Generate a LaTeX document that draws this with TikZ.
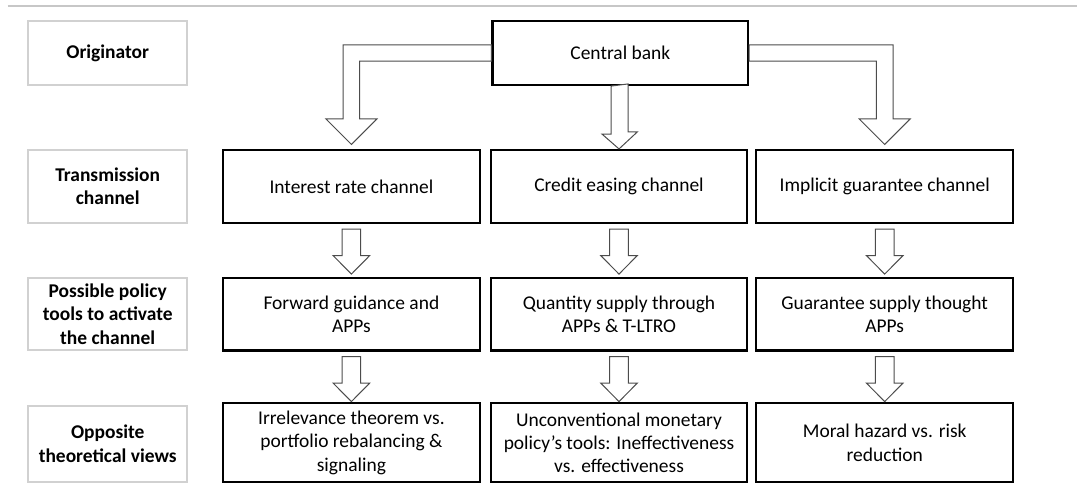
\documentclass[tikz,border=0pt]{standalone}
\usepackage{fontspec}
\setmainfont{Carlito}
\usetikzlibrary{calc}
\begin{document}
\begin{tikzpicture}[x=0.75pt,y=-0.75pt,
  every node/.style={font=\fontsize{14.6}{17.5}\selectfont, align=center, inner sep=0pt},
  labelbox/.style={draw=black!18, line width=1.5pt, fill=white, minimum width=119.6pt, font=\fontsize{14.6}{17.5}\selectfont\bfseries},
  mainbox/.style={draw=black, line width=1.6pt, fill=white},
  colbox/.style={mainbox, minimum width=192.5pt},
  blockarrow/.style={draw=black!70, line width=0.75pt, fill=white, line join=miter}
]
\useasboundingbox (0,0) rectangle (1077,499);
\draw[black!22, line width=0.8pt] (7.6,6) -- (1077,6);

% left labels
\node[labelbox, minimum height=48pt] (lorig) at (107.7,53) {Originator};
\node[labelbox, minimum height=54.5pt] (ltrans) at (107.7,186.4) {Transmission\\channel};
\node[labelbox, minimum height=53.8pt] (ltools) at (107.7,314.2) {Possible policy\\tools to activate\\the channel};
\node[labelbox, minimum height=57pt] (lviews) at (107.7,443.7) {Opposite\\theoretical views};

% central bank
\node[mainbox, minimum width=191.7pt, minimum height=48pt] (cb) at (620.3,53) {Central bank};

% row 1
\node[colbox, minimum height=54.75pt] (r1c1) at (351.4,186.5) {Interest rate channel};
\node[colbox, minimum height=54.75pt] (r1c2) at (619,186.5) {Credit easing channel};
\node[colbox, minimum height=54.75pt] (r1c3) at (884.7,186.5) {Implicit guarantee channel};
% row 2
\node[colbox, minimum height=54.4pt] (r2c1) at (351.4,314.25) {Forward guidance and\\APPs};
\node[colbox, minimum height=54.4pt] (r2c2) at (619,314.25) {Quantity supply through\\APPs \& T-LTRO};
\node[colbox, minimum height=54.4pt] (r2c3) at (884.7,314.25) {Guarantee supply thought\\APPs};
% row 3
\node[colbox, minimum height=59pt] (r3c1) at (351.4,442.7) {Irrelevance theorem vs.\\portfolio rebalancing \&\\signaling};
\node[colbox, minimum height=59pt] (r3c2) at (619,442.7) {Unconventional monetary\\policy’s tools: Ineffectiveness\\vs. effectiveness};
\node[colbox, minimum height=59pt] (r3c3) at (884.7,442.7) {Moral hazard vs. risk\\reduction};

% top arrows
\draw[blockarrow] ($(cb.west)+(0,-8.2)$) -- ($(r1c1.north |- cb.west)+(-8.3,-8.2)$)
  -- ($(r1c1.north)+(-8.3,-30)$) -- ($(r1c1.north)+(-25.5,-30)$) -- ($(r1c1.north)+(0,-4.5)$)
  -- ($(r1c1.north)+(25.5,-30)$) -- ($(r1c1.north)+(8.3,-30)$)
  -- ($(r1c1.north |- cb.west)+(8.3,8.2)$) -- ($(cb.west)+(0,8.2)$) -- cycle;
\draw[blockarrow] ($(cb.east)+(0,-8.2)$) -- ($(r1c3.north |- cb.east)+(8.3,-8.2)$)
  -- ($(r1c3.north)+(8.3,-30)$) -- ($(r1c3.north)+(25.5,-30)$) -- ($(r1c3.north)+(0,-4.5)$)
  -- ($(r1c3.north)+(-25.5,-30)$) -- ($(r1c3.north)+(-8.3,-30)$)
  -- ($(r1c3.north |- cb.east)+(-8.3,8.2)$) -- ($(cb.east)+(0,8.2)$) -- cycle;
\draw[blockarrow] ($(cb.south)+(-9.1,0)$) -- ++(0,48) -- ++(-9.2,0) -- ($(r1c2.north)+(0,0)$)
  -- ++(18.3,-17) -- ++(-9.2,0) -- ++(0,-48) -- cycle;

% row arrows
\foreach \a in {r1c1,r2c1,r1c2,r2c2,r1c3,r2c3}{
  \draw[blockarrow] ($(\a.south)+(-9.3,5)$) -- ++(18.6,0) -- ++(0,26.5) -- ++(9,0)
    -- ++(-18.3,18.5) -- ++(-18.3,-18.5) -- ++(9,0) -- cycle;
}
\end{tikzpicture}
\end{document}
